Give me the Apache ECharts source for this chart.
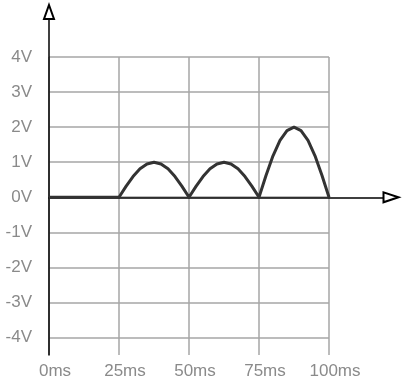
<!DOCTYPE html>
<html><head><meta charset="utf-8">
<script src="https://cdn.jsdelivr.net/npm/echarts@6/dist/echarts.min.js"></script>
<style>html,body{margin:0;padding:0;background:#fff}#c{width:404px;height:384px}</style>
</head><body><div id="c"></div>
<script>
var timeMs = [0, 25, 27.5, 30, 32.5, 35, 37.5, 40, 42.5, 45, 47.5, 50, 52.5, 55, 57.5, 60, 62.5, 65, 67.5, 70, 72.5, 75, 77.5, 80, 82.5, 85, 87.5, 90, 92.5, 95, 97.5, 100];
var volts  = [0, 0, 0.31, 0.59, 0.81, 0.95, 1, 0.95, 0.81, 0.59, 0.31, 0, 0.31, 0.59, 0.81, 0.95, 1, 0.95, 0.81, 0.59, 0.31, 0, 0.62, 1.18, 1.62, 1.9, 2, 1.9, 1.62, 1.18, 0.62, 0];
var xTicks = [0, 25, 50, 75, 100];
var yMin = -4.5, yMax = 4;

var chart = echarts.init(document.getElementById('c'), null, {renderer: 'canvas'});
var labelStyle = {color: '#8a8a8a', fontSize: 17, fontFamily: 'Liberation Sans, Arial, sans-serif'};
chart.setOption({
  animation: false,
  grid: [
    {left: 49, right: 75, top: 57, bottom: 29},
    {left: 49, right: 13, top: 12, bottom: 29}
  ],
  xAxis: [
    {gridIndex: 0, type: 'value', min: xTicks[0], max: xTicks[xTicks.length - 1], interval: 25,
     axisLine: {show: false}, axisTick: {show: false},
     axisLabel: Object.assign({margin: 8, padding: [0, 0, 0, 12], formatter: function (v) { return v + 'ms'; }}, labelStyle),
     splitLine: {show: true, lineStyle: {color: '#a6a6a6', width: 1.5}}},
    {gridIndex: 1, type: 'value', min: 0, max: (404 - 13 - 49) / 70 * 25,
     axisLine: {show: true, onZero: true, symbol: ['none', 'emptyTriangle'], symbolSize: [10, 15],
                lineStyle: {color: '#000', width: 1.5}},
     axisTick: {show: false}, axisLabel: {show: false}, splitLine: {show: false}}
  ],
  yAxis: [
    {gridIndex: 0, type: 'value', min: yMin, max: yMax, interval: 0.5,
     axisLine: {show: false}, axisTick: {show: false},
     axisLabel: Object.assign({margin: 17, formatter: function (v) { return Math.abs(v % 1) < 1e-9 ? v + 'V' : ''; }}, labelStyle),
     splitLine: {show: true, lineStyle: {color: ['transparent', '#a6a6a6'], width: 1.5}}},
    {gridIndex: 1, type: 'value', min: yMin, max: yMax + (57 - 12) / 35,
     axisLine: {show: true, onZero: false, symbol: ['none', 'emptyTriangle'], symbolSize: [10, 14],
                lineStyle: {color: '#000', width: 1.5}},
     axisTick: {show: false}, axisLabel: {show: false}, splitLine: {show: false}}
  ],
  series: [{
    type: 'line', xAxisIndex: 0, yAxisIndex: 0,
    data: timeMs.map(function (t, i) { return [t, volts[i]]; }),
    showSymbol: false, smooth: false,
    lineStyle: {color: '#333', width: 3}, z: 5
  }]
});
</script></body></html>
